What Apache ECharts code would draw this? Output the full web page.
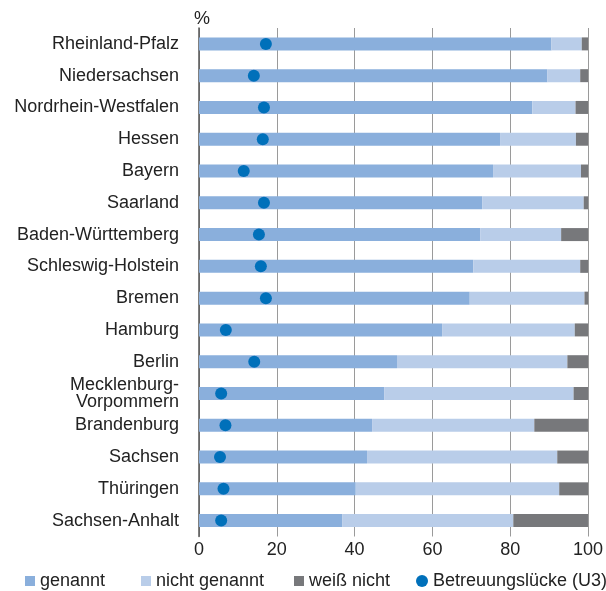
<!DOCTYPE html>
<html>
<head>
<meta charset="utf-8">
<script src="https://cdn.jsdelivr.net/npm/echarts@6/dist/echarts.min.js"></script>
<style>html,body{margin:0;padding:0;background:#fff}#c{width:606px;height:591px}</style>
</head>
<body>
<div id="c"></div>
<script>
const categories = ['Rheinland-Pfalz','Niedersachsen','Nordrhein-Westfalen','Hessen','Bayern','Saarland','Baden-Württemberg','Schleswig-Holstein','Bremen','Hamburg','Berlin','Mecklenburg-\nVorpommern','Brandenburg','Sachsen','Thüringen','Sachsen-Anhalt'];
const genannt = [90.6, 89.5, 85.7, 77.4, 75.6, 72.8, 72.3, 70.5, 69.6, 62.5, 50.9, 47.6, 44.5, 43.2, 40.3, 36.8];
const nichtGenannt = [7.8, 8.5, 11.1, 19.5, 22.6, 26.1, 20.8, 27.5, 29.5, 34.1, 43.8, 48.7, 41.7, 48.9, 52.3, 44.0];
const weissNicht = [1.6, 2.0, 3.2, 3.1, 1.8, 1.1, 6.9, 2.0, 0.9, 3.4, 5.3, 3.7, 13.8, 7.9, 7.4, 19.2];
const betreuungsluecke = [17.2, 14.1, 16.7, 16.4, 11.5, 16.7, 15.4, 15.9, 17.2, 6.9, 14.2, 5.7, 6.8, 5.4, 6.3, 5.7];
const xTicks = [0, 20, 40, 60, 80, 100];

const FONT = 'Liberation Sans, Arial, sans-serif';
const FS = 18;
const chart = echarts.init(document.getElementById('c'), null, {renderer: 'canvas'});
const legendText = {fontFamily: FONT, fontSize: FS, color: '#222'};
function lg(name, left, icon, w, h) {
  return {data: [{name: name, icon: icon}], left: left, top: 567, itemWidth: w, itemHeight: h, itemGap: 0,
    textStyle: legendText, selectedMode: false};
}
chart.setOption({
  animation: false,
  grid: {left: 199, right: 18, top: 28, bottom: 54.5},
  title: {text: '%', left: 189, top: 5, textStyle: {fontFamily: FONT, fontSize: FS, fontWeight: 'normal', color: '#222'}},
  legend: [
    lg('genannt', 20, 'rect', 10, 10),
    lg('nicht genannt', 136, 'rect', 10, 10),
    lg('weiß nicht', 289, 'rect', 10, 10),
    lg('Betreuungslücke (U3)', 411, 'circle', 12, 12)
  ],
  xAxis: {
    type: 'value', min: 0, max: 100, interval: 20,
    axisLine: {show: false}, axisTick: {show: false},
    splitLine: {show: true, lineStyle: {color: '#9a9a9a', width: 1}},
    axisLabel: {fontFamily: FONT, fontSize: FS, color: '#222', margin: 5,
      formatter: v => xTicks.includes(v) ? String(v) : ''}
  },
  yAxis: {
    type: 'category', data: categories, inverse: true,
    axisLine: {show: true, lineStyle: {color: '#555', width: 1.5}},
    axisTick: {show: false},
    axisLabel: {fontFamily: FONT, fontSize: FS, color: '#222', margin: 20, lineHeight: 17, align: 'right'}
  },
  series: [
    {name: 'genannt', type: 'bar', stack: 's', data: genannt, barWidth: 13, itemStyle: {color: '#8AAFDC'}, z: 2},
    {name: 'nicht genannt', type: 'bar', stack: 's', data: nichtGenannt, barWidth: 13, itemStyle: {color: '#B9CDE9'}, z: 2},
    {name: 'weiß nicht', type: 'bar', stack: 's', data: weissNicht, barWidth: 13, itemStyle: {color: '#77787B'}, z: 2},
    {name: 'Betreuungslücke (U3)', type: 'scatter', data: betreuungsluecke, symbolSize: 12, itemStyle: {color: '#0070BA', opacity: 1}, z: 5}
  ]
});
</script>
</body>
</html>
